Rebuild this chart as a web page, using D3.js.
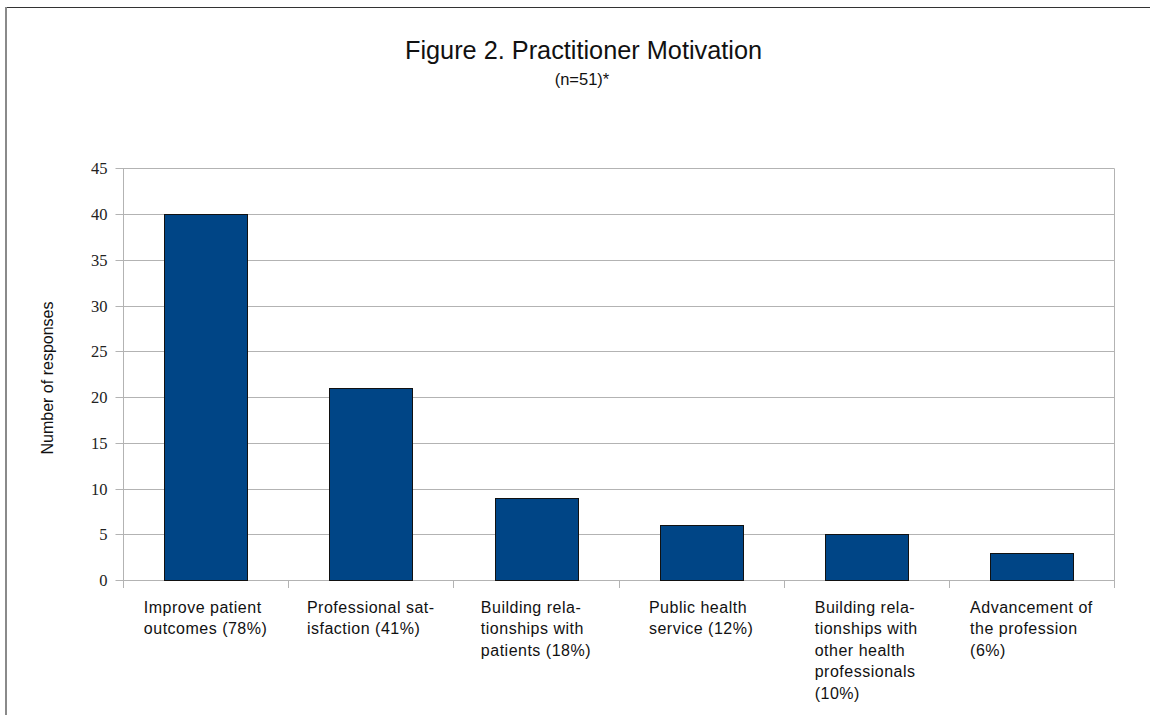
<!DOCTYPE html>
<html>
<head>
<meta charset="utf-8">
<script src="https://cdn.jsdelivr.net/npm/d3@7"></script>
<style>
  html, body { margin: 0; padding: 0; background: #fff; }
  svg { display: block; }
</style>
</head>
<body>
<svg id="chart" width="1150" height="715"></svg>
<script>
// ---- data ----
const categories = [
  ["Improve patient", "outcomes (78%)"],
  ["Professional sat-", "isfaction (41%)"],
  ["Building rela-", "tionships with", "patients (18%)"],
  ["Public health", "service (12%)"],
  ["Building rela-", "tionships with", "other health", "professionals", "(10%)"],
  ["Advancement of", "the profession", "(6%)"]
];
const values = [40, 21, 9, 6, 5, 3];
const yTicks = [0, 5, 10, 15, 20, 25, 30, 35, 40, 45];
const titleText = "Figure 2. Practitioner Motivation";
const subtitleText = "(n=51)*";
const yLabel = "Number of responses";

(function () {
  const svg = d3.select("#chart");
  const pLeft = 123, pRight = 1114, pTop = 168.3, pBottom = 580;

  // frame
  svg.append("line").attr("x1", 5).attr("x2", 1150).attr("y1", 7.5).attr("y2", 7.5)
    .attr("stroke", "#333").attr("stroke-width", 1.2);
  svg.append("line").attr("x1", 6).attr("x2", 6).attr("y1", 7).attr("y2", 715)
    .attr("stroke", "#8a8a8a").attr("stroke-width", 2);

  const idx = d3.range(categories.length);
  const x = d3.scaleBand().domain(idx).range([pLeft, pRight]).paddingInner(0.5).paddingOuter(0.25);
  const xb = d3.scaleBand().domain(idx).range([pLeft, pRight]);
  const y = d3.scaleLinear().domain([0, 45]).range([pBottom, pTop]);
  const py = v => Math.round(y(v)) + 0.5;

  // gridlines
  svg.append("g").selectAll("line").data(yTicks).join("line")
    .attr("x1", pLeft).attr("x2", pRight)
    .attr("y1", d => py(d)).attr("y2", d => py(d))
    .attr("stroke", "#b3b3b3").attr("stroke-width", 1);

  // y axis
  const yAxis = svg.append("g").attr("transform", `translate(${pLeft + 0.5},0)`)
    .call(d3.axisLeft(y).tickValues(yTicks).tickSize(8).tickPadding(8).tickSizeOuter(0));
  yAxis.select(".domain").attr("stroke", "#b3b3b3").attr("d", `M0,${pTop}V${pBottom + 8}`);
  yAxis.selectAll(".tick line").attr("stroke", "#b3b3b3");
  yAxis.selectAll(".tick").attr("transform", d => `translate(0,${py(d)})`);
  yAxis.selectAll("text").attr("font-family", "'Liberation Serif', 'Times New Roman', serif")
    .attr("font-size", 16.5).attr("fill", "#222");

  // x ticks at band boundaries
  const bounds = d3.range(categories.length + 1).map(i => i < categories.length ? xb(i) : xb(i - 1) + xb.bandwidth());
  svg.append("g").selectAll("line").data(bounds).join("line")
    .attr("x1", d => Math.round(d) + 0.5).attr("x2", d => Math.round(d) + 0.5)
    .attr("y1", (d, i) => (i === 0 || i === categories.length) ? pTop : pBottom)
    .attr("y2", pBottom + 8)
    .attr("stroke", "#b3b3b3");
  svg.append("line").attr("x1", pLeft).attr("x2", pRight + 0.5)
    .attr("y1", py(0)).attr("y2", py(0))
    .attr("stroke", "#b3b3b3");

  // bars
  svg.append("g").selectAll("rect").data(values).join("rect")
    .attr("x", (d, i) => Math.round(x(i)) + 0.5)
    .attr("width", Math.round(x.bandwidth()))
    .attr("y", d => py(d))
    .attr("height", d => py(0) - py(d))
    .attr("fill", "#004586")
    .attr("stroke", "#111").attr("stroke-width", 1);

  // category labels
  const lab = svg.append("g").attr("font-family", "'Liberation Sans', Arial, sans-serif")
    .attr("font-size", 16).attr("fill", "#111");
  categories.forEach((lines, i) => {
    const t = lab.append("text").attr("letter-spacing", 0.5);
    lines.forEach((ln, j) => {
      t.append("tspan").attr("y", 612.7 + j * 21.5).text(ln);
    });
    const w = d3.max(t.selectAll("tspan").nodes(), n => n.getComputedTextLength());
    const cx = xb(i) + xb.bandwidth() / 2;
    t.selectAll("tspan").attr("x", cx - w / 2);
  });

  // title
  svg.append("text").attr("x", 583.5).attr("y", 59).attr("text-anchor", "middle")
    .attr("font-family", "'Liberation Sans', Arial, sans-serif").attr("font-size", 25.3)
    .attr("fill", "#111").text(titleText);
  svg.append("text").attr("x", 582).attr("y", 84.5).attr("text-anchor", "middle")
    .attr("font-family", "'Liberation Sans', Arial, sans-serif").attr("font-size", 16.5)
    .attr("fill", "#111").text(subtitleText);

  // y label
  svg.append("text").attr("transform", "translate(53,378) rotate(-90)")
    .attr("text-anchor", "middle")
    .attr("font-family", "'Liberation Sans', Arial, sans-serif").attr("font-size", 16)
    .attr("fill", "#111").text(yLabel);
})();
</script>
</body>
</html>
